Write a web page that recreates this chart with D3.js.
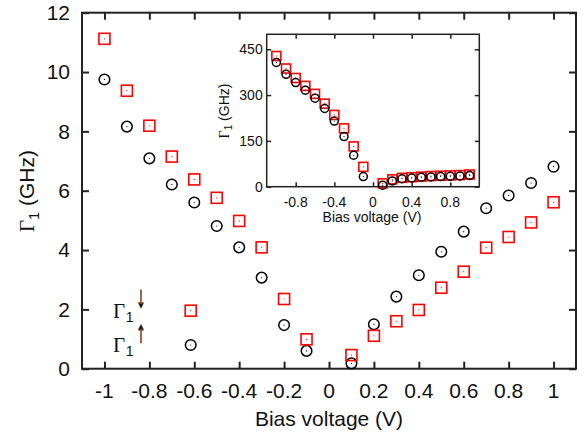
<!DOCTYPE html>
<html>
<head>
<meta charset="utf-8">
<script src="https://cdn.jsdelivr.net/npm/d3@7"></script>
<style>
  body { margin: 0; background: #fff; }
  text { font-family: "Liberation Sans", Arial, sans-serif; fill: #111; }
</style>
</head>
<body>
<div class="canvas"></div>
<script>
// bias voltages (V)
const bias = [-1, -0.9, -0.8, -0.7, -0.6, -0.5, -0.4, -0.3, -0.2, -0.1,
  0.1, 0.2, 0.3, 0.4, 0.5, 0.6, 0.7, 0.8, 0.9, 1];
// main panel, GHz
const gammaUp = [9.75, 8.16, 7.09, 6.21, 5.6, 4.81, 4.09, 3.07, 1.47, 0.6,
  0.18, 1.5, 2.43, 3.15, 3.94, 4.62, 5.41, 5.84, 6.26, 6.81];
const gammaDown = [11.12, 9.37, 8.19, 7.15, 6.38, 5.76, 4.98, 4.09, 2.35, 0.99,
  0.46, 1.11, 1.6, 1.98, 2.73, 3.27, 4.08, 4.44, 4.93, 5.61];
// inset panel, GHz
const insetUp = [407, 368, 341, 316, 290, 256, 215, 164, 103, 33,
  5, 19, 26, 28.5, 31, 32, 33, 34, 35, 37];
const insetDown = [428, 387, 356, 330, 304, 272, 235, 191, 132, 65,
  11, 24, 29, 31, 33, 35, 36, 37, 38, 40];

const mainXTicks = [-1, -0.8, -0.6, -0.4, -0.2, 0, 0.2, 0.4, 0.6, 0.8, 1];
const mainYTicks = [0, 2, 4, 6, 8, 10, 12];
const insetXTicks = [-0.8, -0.4, 0, 0.4, 0.8];
const insetYTicks = [0, 150, 300, 450];

const fmt = (d) => String(+d.toFixed(1));

const svg = d3.select(".canvas").append("svg")
  .attr("width", 585).attr("height", 441);

// draws a boxed panel with inward ticks on all four sides
const panel = (opt) => {
  const x = d3.scaleLinear().domain([-1.1, 1.1]).range([opt.left, opt.right]);
  const y = d3.scaleLinear().domain(opt.yDomain).range([opt.bottom, opt.top]);
  const g = svg.append("g");

  g.append("rect")
    .attr("x", opt.left).attr("y", opt.top)
    .attr("width", opt.right - opt.left).attr("height", opt.bottom - opt.top)
    .attr("fill", "#fff");

  const axes = [
    [d3.axisBottom(x).tickValues(opt.xTicks), opt.bottom, "x"],
    [d3.axisTop(x).tickValues(opt.xTicks), opt.top, "x"],
    [d3.axisLeft(y).tickValues(opt.yTicks), opt.left, "y"],
    [d3.axisRight(y).tickValues(opt.yTicks), opt.right, "y"]
  ];
  axes.forEach(([ax, pos, dir]) => {
    ax.tickSize(-opt.tick).tickFormat("").tickSizeOuter(0);
    const a = g.append("g")
      .attr("transform", dir === "x" ? `translate(0,${pos})` : `translate(${pos},0)`)
      .call(ax);
    a.select(".domain").remove();
    a.selectAll("line").attr("stroke", "#222").attr("stroke-width", opt.sw);
  });

  g.append("rect")
    .attr("x", opt.left).attr("y", opt.top)
    .attr("width", opt.right - opt.left).attr("height", opt.bottom - opt.top)
    .attr("fill", "none").attr("stroke", "#222").attr("stroke-width", opt.sw);

  // tick labels
  g.selectAll(".xl").data(opt.xTicks).enter().append("text")
    .attr("x", (d) => x(d)).attr("y", opt.xLabelY)
    .attr("text-anchor", "middle").attr("font-size", opt.fs)
    .text(fmt);
  g.selectAll(".yl").data(opt.yTicks).enter().append("text")
    .attr("x", opt.left - opt.yLabelGap).attr("y", (d) => y(d) + opt.fs * 0.35)
    .attr("text-anchor", "end").attr("font-size", opt.fs)
    .text((d) => d);

  // markers
  const pts = (vals) => bias.map((b, i) => ({ x: b, v: vals[i] }));
  const circ = g.append("g");
  pts(opt.up).forEach((d) => {
    circ.append("circle").attr("cx", x(d.x)).attr("cy", y(d.v)).attr("r", opt.r)
      .attr("fill", "none").attr("stroke", "#000").attr("stroke-width", 1.5);
    circ.append("circle").attr("cx", x(d.x)).attr("cy", y(d.v)).attr("r", 0.6)
      .attr("fill", "#000");
  });
  const sq = g.append("g");
  pts(opt.down).forEach((d) => {
    sq.append("rect").attr("x", x(d.x) - opt.s / 2).attr("y", y(d.v) - opt.s / 2)
      .attr("width", opt.s).attr("height", opt.s)
      .attr("fill", "none").attr("stroke", "#f00").attr("stroke-width", 1.6);
    sq.append("circle").attr("cx", x(d.x)).attr("cy", y(d.v)).attr("r", 0.6)
      .attr("fill", "#f00");
  });
  if (opt.circlesOnTop) circ.raise();
  return { x, y };
};

// main panel
panel({
  left: 82, right: 576, top: 12.7, bottom: 368.7,
  yDomain: [0, 12], xTicks: mainXTicks, yTicks: mainYTicks,
  tick: 7, sw: 2, fs: 21, xLabelY: 398, yLabelGap: 12,
  up: gammaUp, down: gammaDown, r: 5.3, s: 11, circlesOnTop: false
});

// axis titles
svg.append("text").attr("x", 329).attr("y", 426)
  .attr("text-anchor", "middle").attr("font-size", 21).text("Bias voltage (V)");

const yTitle = svg.append("text")
  .attr("transform", "translate(34,191) rotate(-90)")
  .attr("text-anchor", "middle").attr("font-size", 21);
yTitle.append("tspan").style("font-family", "'Liberation Serif', serif").text("Γ");
yTitle.append("tspan").attr("font-size", 14).attr("dy", 5).text("1");
yTitle.append("tspan").attr("dy", -5).text(" (GHz)");

// legend
const legend = [
  { arrow: "\u2193\uFE0E", y: 317.5, ay: 307.5, my: 310.7, kind: "sq" },
  { arrow: "\u2191\uFE0E", y: 352, ay: 342.5, my: 345, kind: "ci" }
];
legend.forEach((l) => {
  const t = svg.append("text").attr("x", 113).attr("y", l.y).attr("font-size", 21);
  t.append("tspan").style("font-family", "'Liberation Serif', serif").text("Γ");
  t.append("tspan").attr("font-size", 14).attr("dy", 4.2).attr("dx", 0.5).text("1");
  svg.append("text")
    .attr("transform", `translate(141,${l.ay}) scale(0.6,1.25)`)
    .attr("text-anchor", "middle").attr("font-size", 20)
    .attr("stroke", "#111").attr("stroke-width", 0.3)
    .style("font-family", "'DejaVu Sans', sans-serif").text(l.arrow);
  if (l.kind === "sq") {
    svg.append("rect").attr("x", 190.7 - 5.5).attr("y", l.my - 5.5)
      .attr("width", 11).attr("height", 11)
      .attr("fill", "none").attr("stroke", "#f00").attr("stroke-width", 1.6);
    svg.append("circle").attr("cx", 190.7).attr("cy", l.my).attr("r", 0.6).attr("fill", "#f00");
  } else {
    svg.append("circle").attr("cx", 190.7).attr("cy", l.my).attr("r", 5.3)
      .attr("fill", "none").attr("stroke", "#000").attr("stroke-width", 1.5);
    svg.append("circle").attr("cx", 190.7).attr("cy", l.my).attr("r", 0.6).attr("fill", "#000");
  }
});

// inset panel
panel({
  left: 266.7, right: 479.3, top: 34.3, bottom: 186.7,
  yDomain: [0, 499], xTicks: insetXTicks, yTicks: insetYTicks,
  tick: 4.5, sw: 1.5, fs: 14, xLabelY: 206.5, yLabelGap: 4,
  up: insetUp, down: insetDown, r: 4, s: 9, circlesOnTop: true
});

svg.append("text").attr("x", 372).attr("y", 222)
  .attr("text-anchor", "middle").attr("font-size", 14).text("Bias voltage (V)");

const iTitle = svg.append("text")
  .attr("transform", "translate(229,111) rotate(-90)")
  .attr("text-anchor", "middle").attr("font-size", 14);
iTitle.append("tspan").style("font-family", "'Liberation Serif', serif").text("Γ");
iTitle.append("tspan").attr("font-size", 10).attr("dy", 3).text("1");
iTitle.append("tspan").attr("dy", -3).text(" (GHz)");
</script>
</body>
</html>
